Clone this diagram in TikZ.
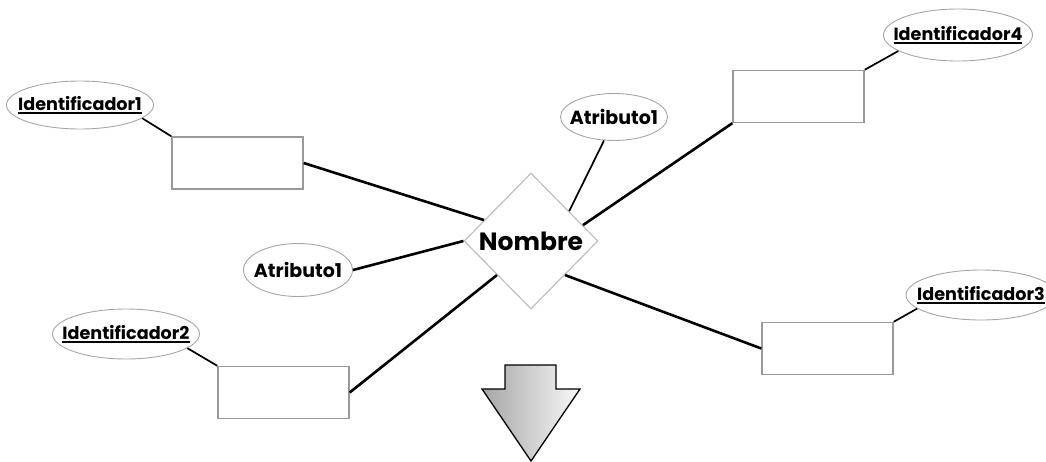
\documentclass[tikz,border=0pt]{standalone}
\usepackage{fontspec}
\setmainfont{Poppins}
\usepackage{tikz}
\usetikzlibrary{shapes.geometric}
% text kept out of the ellipse size, so minimum width/height rule
\newcommand{\attrname}[1]{\makebox[0pt]{#1}}
\newcommand{\idline}[1]{\makebox[0pt]{\setbox0\hbox{#1}\rlap{\rule[-3pt]{\wd0}{1.7pt}}\box0}}
\tikzstyle{attr}=[ellipse,draw=gray!70,line width=0.9pt,inner sep=0pt,font=\fontsize{19}{22}\selectfont\bfseries]
\tikzstyle{keyattr}=[attr,font=\fontsize{17.6}{20}\selectfont\bfseries]
\tikzstyle{entity}=[rectangle,draw=gray!80,line width=1.4pt,minimum width=131pt,minimum height=52pt]
\tikzstyle{relation}=[diamond,draw=gray!50,line width=1.2pt,inner sep=0pt,minimum width=134pt,minimum height=136pt,font=\fontsize{25}{30}\selectfont\bfseries]
\tikzstyle{link}=[line width=2.6pt]
\tikzstyle{thinlink}=[line width=1.7pt]
\tikzstyle{bigarrow}=[draw=black,line width=1.3pt,left color=gray!70,right color=gray!5]

\begin{document}
\begin{tikzpicture}[x=1pt,y=-1pt]
        \useasboundingbox (0,0) rectangle (1046,461);

        \node at (531,241) [relation] (d) {\attrname{Nombre}};

        \node at (237.5,163) [entity] (r1) {};
        \node at (283.5,392.5) [entity] (r2) {};
        \node at (827.5,348.5) [entity] (r3) {};
        \node at (798.5,96.5) [entity] (r4) {};

        \node at (80,105) [keyattr,minimum width=147pt,minimum height=48pt] (id1) {\idline{Identificador1}};
        \node at (126,334) [keyattr,minimum width=147pt,minimum height=50pt] (id2) {\idline{Identificador2}};
        \node at (981,295) [keyattr,minimum width=150pt,minimum height=50pt] (id3) {\idline{Identificador3}};
        \node at (958,35) [keyattr,minimum width=149pt,minimum height=52pt] (id4) {\idline{Identificador4}};
        \node at (614,117) [attr,minimum width=107pt,minimum height=47pt] (at1) {\attrname{Atributo1}};
        \node at (298,270) [attr,minimum width=109pt,minimum height=53pt] (at2) {\attrname{Atributo1}};

        \draw [thinlink] (id1.-12) -- (r1.north west);
        \draw [thinlink] (id2.-13) -- (r2.north west);
        \draw [thinlink] (id3.192) -- (r3.north east);
        \draw [thinlink] (id4.195) -- (r4.north east);
        \draw [thinlink] (at1.-113) -- (d.38);

        \draw [link] (at2.east) -- (d.west);
        \draw [link] (r1.east) -- (d.156);
        \draw [link] (r2.east) -- (d.225);
        \draw [link] (d.-45) -- (r3.west);
        \draw [link] (d.17) -- (r4.south west);

        % arrow below the relation
        \path [bigarrow] (505,365) -- (556,365) -- (556,389) -- (580,389) -- (531,461)
                -- (482,389) -- (505,389) -- cycle;
      \end{tikzpicture}
\end{document}
